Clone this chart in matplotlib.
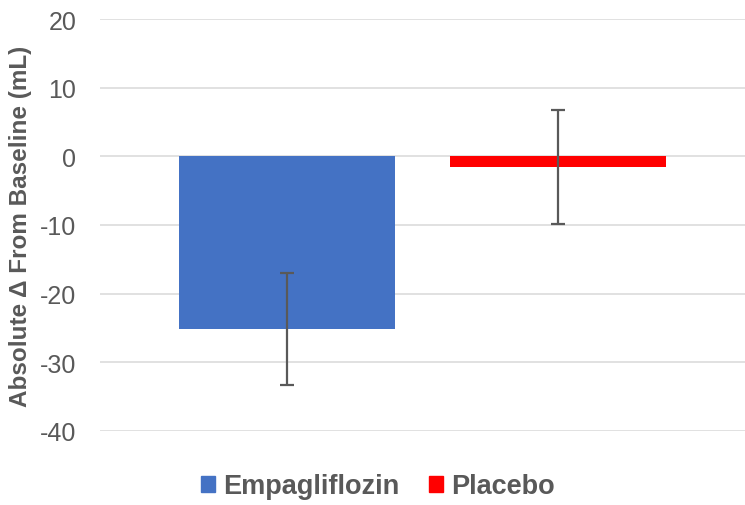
import matplotlib.pyplot as plt
from matplotlib.patches import Patch

groups = ["Empagliflozin", "Placebo"]
means = [-25.2, -1.5]
errors = [8.15, 8.3]
colors = ["#4472C4", "#FF0000"]
yticks = [20, 10, 0, -10, -20, -30, -40]

plt.rcParams['font.family'] = ['Liberation Sans', 'DejaVu Sans']
plt.rcParams['axes.unicode_minus'] = False

fig = plt.figure(figsize=(7.45, 5.06), dpi=100)
ax = fig.add_axes([100 / 745, 74 / 506, 645 / 745, 412 / 506])

pos = list(range(len(groups)))
ax.bar(pos, means, width=0.797, color=colors, zorder=2)
ax.errorbar(pos, means, yerr=errors, fmt='none', ecolor='#595959',
            elinewidth=1.6, capsize=4.7, capthick=1.6, zorder=3)

ax.set_xlim(-0.69, 1.69)
ax.set_ylim(-40, 20)
ax.set_yticks(yticks)
ax.set_xticks([])
ax.yaxis.grid(True, color='#D9D9D9', linewidth=1.1, zorder=0)
ax.set_axisbelow(True)
for s in ax.spines.values():
    s.set_visible(False)
ax.tick_params(axis='y', length=0, pad=17, labelsize=18, labelcolor='#595959')
ax.set_ylabel("Absolute Δ From Baseline (mL)", fontsize=17.5, fontweight='bold',
              color='#595959')
ax.yaxis.set_label_coords(-0.105, 0.5)

handles = [Patch(color=c, label=g) for g, c in zip(groups, colors)]
fig.legend(handles=handles, loc='center', bbox_to_anchor=(0.507, 0.037), ncol=2,
           frameon=False, handlelength=0.52, handleheight=0.52, handletextpad=0.3,
           columnspacing=1.1, prop={'size': 19.5, 'weight': 'bold'},
           labelcolor='#595959')

fig.savefig("out.png", dpi=100)
